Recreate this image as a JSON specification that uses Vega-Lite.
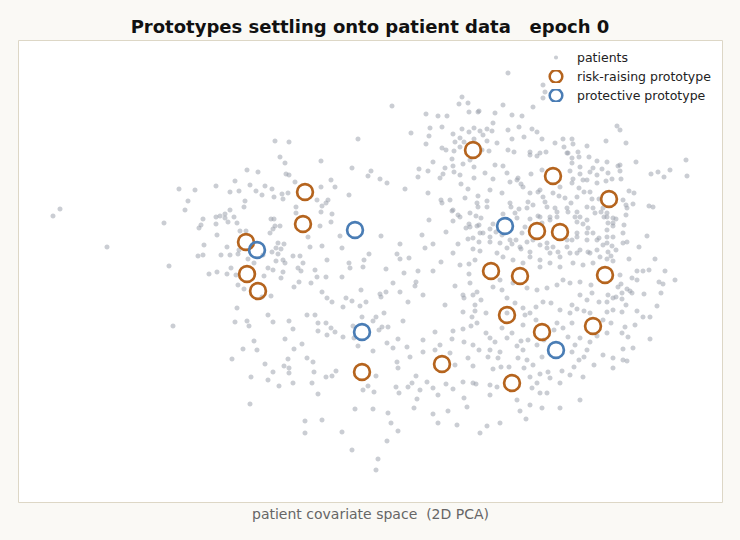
{
"$schema":"https://vega.github.io/schema/vega-lite/v6.json",
"autosize":"none","width":704,"height":462,
"padding":{"left":18,"top":40,"right":18,"bottom":38},
"background":"#faf9f5",
"config":{"font":"DejaVu Sans","view":{"fill":"white","stroke":"#ddd7c6","strokeWidth":1}},
"title":{"text":"Prototypes settling onto patient data\u00a0\u00a0\u00a0epoch 0","fontSize":18,"fontWeight":"bold","color":"#111111","anchor":"middle","offset":3},
"data":{"values":[
{"x":-3.17,"y":0.54,"kind":"patients"},{"x":-3.10,"y":0.61,"kind":"patients"},{"x":-2.63,"y":0.23,"kind":"patients"},{"x":-2.06,"y":0.47,"kind":"patients"},{"x":-2.01,"y":0.04,"kind":"patients"},{"x":-1.91,"y":0.81,"kind":"patients"},{"x":-1.75,"y":0.80,"kind":"patients"},{"x":-1.82,"y":0.69,"kind":"patients"},{"x":-1.85,"y":0.60,"kind":"patients"},{"x":-1.54,"y":0.84,"kind":"patients"},{"x":-1.35,"y":0.89,"kind":"patients"},{"x":-1.23,"y":1.00,"kind":"patients"},{"x":-1.12,"y":0.98,"kind":"patients"},{"x":-1.40,"y":0.78,"kind":"patients"},{"x":-1.31,"y":0.79,"kind":"patients"},{"x":-1.20,"y":0.85,"kind":"patients"},{"x":-1.14,"y":0.79,"kind":"patients"},{"x":-1.25,"y":0.69,"kind":"patients"},{"x":-1.26,"y":0.63,"kind":"patients"},{"x":-1.40,"y":0.60,"kind":"patients"},{"x":-1.67,"y":0.51,"kind":"patients"},{"x":-1.54,"y":0.53,"kind":"patients"},{"x":-1.50,"y":0.54,"kind":"patients"},{"x":-1.45,"y":0.56,"kind":"patients"},{"x":-1.45,"y":0.52,"kind":"patients"},{"x":-1.36,"y":0.53,"kind":"patients"},{"x":-1.42,"y":0.48,"kind":"patients"},{"x":-1.33,"y":0.47,"kind":"patients"},{"x":-1.69,"y":0.45,"kind":"patients"},{"x":-1.71,"y":0.42,"kind":"patients"},{"x":-1.54,"y":0.46,"kind":"patients"},{"x":-1.53,"y":0.35,"kind":"patients"},{"x":-1.66,"y":0.25,"kind":"patients"},{"x":-1.72,"y":0.14,"kind":"patients"},{"x":-1.67,"y":0.15,"kind":"patients"},{"x":-1.49,"y":0.15,"kind":"patients"},{"x":-1.43,"y":0.23,"kind":"patients"},{"x":-1.40,"y":0.15,"kind":"patients"},{"x":-1.32,"y":0.16,"kind":"patients"},{"x":-1.31,"y":0.20,"kind":"patients"},{"x":-1.24,"y":0.39,"kind":"patients"},{"x":-1.30,"y":0.39,"kind":"patients"},{"x":-1.61,"y":-0.04,"kind":"patients"},{"x":-1.53,"y":-0.02,"kind":"patients"},{"x":-1.43,"y":-0.04,"kind":"patients"},{"x":-1.39,"y":0.02,"kind":"patients"},{"x":-1.34,"y":-0.05,"kind":"patients"},{"x":-1.32,"y":-0.15,"kind":"patients"},{"x":-1.26,"y":-0.19,"kind":"patients"},{"x":-1.22,"y":0.11,"kind":"patients"},{"x":-1.16,"y":0.07,"kind":"patients"},
{"x":0.22,"y":1.64,"kind":"patients"},{"x":-0.12,"y":1.31,"kind":"patients"},{"x":-0.95,"y":1.29,"kind":"patients"},{"x":-0.81,"y":1.28,"kind":"patients"},{"x":-0.90,"y":1.13,"kind":"patients"},{"x":-0.85,"y":1.07,"kind":"patients"},{"x":-0.49,"y":1.09,"kind":"patients"},{"x":-0.84,"y":0.96,"kind":"patients"},{"x":-0.81,"y":0.95,"kind":"patients"},{"x":-0.18,"y":1.02,"kind":"patients"},{"x":0.01,"y":0.99,"kind":"patients"},{"x":-0.02,"y":0.94,"kind":"patients"},{"x":0.10,"y":0.91,"kind":"patients"},{"x":0.17,"y":0.87,"kind":"patients"},{"x":-0.39,"y":0.90,"kind":"patients"},{"x":-0.35,"y":0.83,"kind":"patients"},{"x":-0.75,"y":0.88,"kind":"patients"},{"x":-0.49,"y":0.83,"kind":"patients"},{"x":-1.05,"y":0.84,"kind":"patients"},{"x":-0.98,"y":0.81,"kind":"patients"},{"x":-1.08,"y":0.75,"kind":"patients"},{"x":-0.96,"y":0.73,"kind":"patients"},{"x":-0.88,"y":0.76,"kind":"patients"},{"x":-0.82,"y":0.77,"kind":"patients"},{"x":-0.87,"y":0.71,"kind":"patients"},{"x":-0.53,"y":0.70,"kind":"patients"},{"x":-0.42,"y":0.70,"kind":"patients"},{"x":-0.44,"y":0.67,"kind":"patients"},{"x":-0.48,"y":0.64,"kind":"patients"},{"x":-0.38,"y":0.56,"kind":"patients"},{"x":-0.49,"y":0.58,"kind":"patients"},{"x":-0.74,"y":0.63,"kind":"patients"},{"x":-0.74,"y":0.57,"kind":"patients"},{"x":-0.99,"y":0.51,"kind":"patients"},{"x":-0.96,"y":0.51,"kind":"patients"},{"x":-0.95,"y":0.44,"kind":"patients"},{"x":-0.97,"y":0.41,"kind":"patients"},{"x":-0.90,"y":0.44,"kind":"patients"},{"x":-1.00,"y":0.37,"kind":"patients"},{"x":-0.50,"y":0.44,"kind":"patients"},{"x":-0.39,"y":0.48,"kind":"patients"},{"x":-0.21,"y":0.75,"kind":"patients"},{"x":0.35,"y":0.81,"kind":"patients"},{"x":-0.30,"y":0.34,"kind":"patients"},{"x":-0.28,"y":0.22,"kind":"patients"},{"x":-0.60,"y":0.23,"kind":"patients"},{"x":-0.48,"y":0.24,"kind":"patients"},{"x":-0.70,"y":0.14,"kind":"patients"},{"x":-0.62,"y":0.33,"kind":"patients"},{"x":-0.92,"y":0.27,"kind":"patients"},{"x":-0.94,"y":0.22,"kind":"patients"},{"x":-0.86,"y":0.26,"kind":"patients"},{"x":-0.98,"y":0.18,"kind":"patients"},{"x":-0.92,"y":0.16,"kind":"patients"},{"x":-0.89,"y":0.21,"kind":"patients"},{"x":-0.94,"y":0.09,"kind":"patients"},{"x":-0.85,"y":0.07,"kind":"patients"},{"x":-1.02,"y":0.02,"kind":"patients"},{"x":-0.97,"y":0.00,"kind":"patients"},{"x":-0.87,"y":-0.02,"kind":"patients"},{"x":-0.89,"y":-0.08,"kind":"patients"},{"x":-0.72,"y":0.02,"kind":"patients"},{"x":-0.67,"y":0.07,"kind":"patients"},{"x":-0.55,"y":0.00,"kind":"patients"},{"x":-0.44,"y":-0.07,"kind":"patients"},{"x":-0.53,"y":-0.07,"kind":"patients"},{"x":-0.43,"y":0.10,"kind":"patients"},{"x":-0.21,"y":0.07,"kind":"patients"},{"x":-0.20,"y":0.02,"kind":"patients"},{"x":-0.06,"y":0.10,"kind":"patients"},{"x":-0.07,"y":0.03,"kind":"patients"},{"x":-0.01,"y":0.16,"kind":"patients"},{"x":0.11,"y":0.34,"kind":"patients"},{"x":0.16,"y":0.01,"kind":"patients"},{"x":0.27,"y":0.16,"kind":"patients"},{"x":0.30,"y":0.26,"kind":"patients"},{"x":0.39,"y":0.12,"kind":"patients"},{"x":0.34,"y":-0.03,"kind":"patients"},{"x":0.48,"y":-0.01,"kind":"patients"},{"x":0.55,"y":0.22,"kind":"patients"},{"x":0.52,"y":0.35,"kind":"patients"},{"x":0.63,"y":0.26,"kind":"patients"},{"x":0.63,"y":-0.01,"kind":"patients"},{"x":0.71,"y":0.08,"kind":"patients"},{"x":0.90,"y":0.05,"kind":"patients"},{"x":0.99,"y":0.06,"kind":"patients"},{"x":1.05,"y":0.10,"kind":"patients"},{"x":0.99,"y":-0.04,"kind":"patients"},{"x":0.83,"y":0.17,"kind":"patients"},{"x":0.88,"y":0.26,"kind":"patients"},{"x":0.76,"y":0.38,"kind":"patients"},{"x":0.83,"y":0.49,"kind":"patients"},{"x":0.88,"y":0.55,"kind":"patients"},{"x":0.99,"y":0.46,"kind":"patients"},{"x":1.03,"y":0.32,"kind":"patients"},{"x":1.00,"y":0.57,"kind":"patients"},{"x":1.06,"y":0.54,"kind":"patients"},{"x":1.07,"y":0.44,"kind":"patients"},{"x":0.82,"y":0.59,"kind":"patients"},{"x":0.71,"y":0.70,"kind":"patients"},{"x":0.59,"y":0.50,"kind":"patients"},{"x":0.58,"y":0.77,"kind":"patients"},{"x":0.48,"y":0.93,"kind":"patients"},{"x":0.49,"y":1.01,"kind":"patients"},{"x":0.58,"y":0.99,"kind":"patients"},{"x":0.63,"y":1.08,"kind":"patients"},{"x":0.56,"y":1.26,"kind":"patients"},{"x":0.59,"y":1.34,"kind":"patients"},{"x":0.41,"y":1.37,"kind":"patients"},{"x":0.56,"y":1.56,"kind":"patients"},{"x":0.68,"y":1.54,"kind":"patients"},{"x":0.77,"y":1.54,"kind":"patients"},{"x":0.72,"y":1.43,"kind":"patients"},{"x":0.60,"y":1.42,"kind":"patients"},{"x":0.83,"y":1.36,"kind":"patients"},{"x":0.90,"y":1.32,"kind":"patients"},{"x":0.92,"y":1.73,"kind":"patients"},{"x":0.98,"y":1.67,"kind":"patients"},{"x":0.99,"y":1.58,"kind":"patients"},{"x":0.89,"y":1.66,"kind":"patients"},{"x":1.08,"y":1.58,"kind":"patients"},{"x":0.92,"y":1.41,"kind":"patients"},{"x":0.99,"y":1.38,"kind":"patients"},{"x":0.85,"y":1.28,"kind":"patients"},{"x":0.84,"y":1.19,"kind":"patients"},{"x":0.90,"y":1.23,"kind":"patients"},{"x":0.72,"y":1.22,"kind":"patients"},{"x":0.76,"y":1.20,"kind":"patients"},{"x":0.82,"y":1.11,"kind":"patients"},{"x":0.83,"y":1.04,"kind":"patients"},{"x":0.84,"y":0.98,"kind":"patients"},{"x":0.90,"y":0.95,"kind":"patients"},{"x":0.93,"y":1.06,"kind":"patients"},{"x":1.00,"y":1.10,"kind":"patients"},{"x":0.73,"y":0.96,"kind":"patients"},{"x":0.70,"y":0.92,"kind":"patients"},{"x":0.75,"y":1.02,"kind":"patients"},{"x":1.04,"y":1.03,"kind":"patients"},{"x":0.98,"y":0.81,"kind":"patients"},{"x":1.08,"y":0.74,"kind":"patients"},{"x":0.91,"y":0.86,"kind":"patients"},
{"x":1.38,"y":1.97,"kind":"patients"},{"x":1.09,"y":1.59,"kind":"patients"},{"x":1.25,"y":1.57,"kind":"patients"},{"x":1.33,"y":1.65,"kind":"patients"},{"x":1.42,"y":1.55,"kind":"patients"},{"x":1.52,"y":1.54,"kind":"patients"},{"x":1.04,"y":1.42,"kind":"patients"},{"x":1.10,"y":1.39,"kind":"patients"},{"x":1.17,"y":1.41,"kind":"patients"},{"x":1.22,"y":1.39,"kind":"patients"},{"x":1.23,"y":1.47,"kind":"patients"},{"x":1.38,"y":1.40,"kind":"patients"},{"x":1.49,"y":1.43,"kind":"patients"},{"x":1.62,"y":1.41,"kind":"patients"},{"x":1.67,"y":1.38,"kind":"patients"},{"x":0.94,"y":1.28,"kind":"patients"},{"x":1.04,"y":1.31,"kind":"patients"},{"x":1.13,"y":1.35,"kind":"patients"},{"x":1.17,"y":1.29,"kind":"patients"},{"x":1.27,"y":1.27,"kind":"patients"},{"x":1.42,"y":1.31,"kind":"patients"},{"x":1.54,"y":1.33,"kind":"patients"},{"x":1.72,"y":1.31,"kind":"patients"},{"x":1.85,"y":1.27,"kind":"patients"},{"x":1.93,"y":1.31,"kind":"patients"},{"x":2.02,"y":1.31,"kind":"patients"},{"x":2.03,"y":1.26,"kind":"patients"},{"x":2.17,"y":1.24,"kind":"patients"},{"x":2.36,"y":1.29,"kind":"patients"},{"x":2.47,"y":1.44,"kind":"patients"},{"x":2.50,"y":1.40,"kind":"patients"},{"x":2.56,"y":1.27,"kind":"patients"},{"x":1.12,"y":1.20,"kind":"patients"},{"x":1.19,"y":1.19,"kind":"patients"},{"x":1.38,"y":1.20,"kind":"patients"},{"x":1.44,"y":1.18,"kind":"patients"},{"x":1.60,"y":1.18,"kind":"patients"},{"x":1.67,"y":1.14,"kind":"patients"},{"x":1.76,"y":1.18,"kind":"patients"},{"x":1.94,"y":1.23,"kind":"patients"},{"x":1.97,"y":1.17,"kind":"patients"},{"x":2.02,"y":1.12,"kind":"patients"},{"x":2.09,"y":1.13,"kind":"patients"},{"x":2.19,"y":1.13,"kind":"patients"},{"x":2.27,"y":1.09,"kind":"patients"},{"x":2.37,"y":1.08,"kind":"patients"},{"x":2.48,"y":1.04,"kind":"patients"},{"x":2.50,"y":0.99,"kind":"patients"},{"x":2.66,"y":1.08,"kind":"patients"},{"x":2.81,"y":0.96,"kind":"patients"},{"x":2.88,"y":0.98,"kind":"patients"},{"x":2.94,"y":0.93,"kind":"patients"},{"x":3.00,"y":1.00,"kind":"patients"},{"x":3.16,"y":1.10,"kind":"patients"},{"x":3.17,"y":0.94,"kind":"patients"},{"x":1.04,"y":0.92,"kind":"patients"},{"x":1.23,"y":0.91,"kind":"patients"},{"x":1.33,"y":1.04,"kind":"patients"},{"x":1.37,"y":0.97,"kind":"patients"},{"x":1.40,"y":0.88,"kind":"patients"},{"x":1.48,"y":0.92,"kind":"patients"},{"x":1.51,"y":0.86,"kind":"patients"},{"x":1.61,"y":0.96,"kind":"patients"},{"x":1.72,"y":1.00,"kind":"patients"},{"x":2.00,"y":0.99,"kind":"patients"},{"x":2.03,"y":0.91,"kind":"patients"},{"x":2.10,"y":0.96,"kind":"patients"},{"x":2.17,"y":0.90,"kind":"patients"},{"x":2.23,"y":1.02,"kind":"patients"},{"x":2.27,"y":0.95,"kind":"patients"},{"x":2.32,"y":1.01,"kind":"patients"},{"x":2.38,"y":0.97,"kind":"patients"},{"x":2.42,"y":0.91,"kind":"patients"},{"x":2.51,"y":0.91,"kind":"patients"},{"x":2.59,"y":0.79,"kind":"patients"},{"x":2.64,"y":0.77,"kind":"patients"},{"x":2.79,"y":0.64,"kind":"patients"},{"x":2.83,"y":0.63,"kind":"patients"},{"x":2.77,"y":0.34,"kind":"patients"},{"x":2.56,"y":0.55,"kind":"patients"},{"x":2.57,"y":0.62,"kind":"patients"},{"x":2.43,"y":0.52,"kind":"patients"},{"x":2.53,"y":0.37,"kind":"patients"},{"x":2.43,"y":0.33,"kind":"patients"},{"x":2.53,"y":0.27,"kind":"patients"},{"x":2.46,"y":0.20,"kind":"patients"},{"x":0.72,"y":0.67,"kind":"patients"},{"x":1.08,"y":0.63,"kind":"patients"},{"x":1.17,"y":0.69,"kind":"patients"},{"x":1.11,"y":0.52,"kind":"patients"},{"x":1.09,"y":0.45,"kind":"patients"},{"x":0.96,"y":0.42,"kind":"patients"},{"x":0.98,"y":0.31,"kind":"patients"},{"x":1.09,"y":0.28,"kind":"patients"},{"x":1.03,"y":0.21,"kind":"patients"},{"x":1.10,"y":0.19,"kind":"patients"},{"x":1.23,"y":0.46,"kind":"patients"},{"x":1.20,"y":0.41,"kind":"patients"},{"x":1.26,"y":0.38,"kind":"patients"},{"x":1.41,"y":0.63,"kind":"patients"},{"x":1.33,"y":0.56,"kind":"patients"},{"x":1.45,"y":0.57,"kind":"patients"},{"x":1.47,"y":0.52,"kind":"patients"},{"x":1.49,"y":0.61,"kind":"patients"},{"x":1.57,"y":0.62,"kind":"patients"},{"x":1.58,"y":0.68,"kind":"patients"},{"x":1.60,"y":0.77,"kind":"patients"},{"x":1.68,"y":0.78,"kind":"patients"},{"x":1.73,"y":0.73,"kind":"patients"},{"x":1.75,"y":0.68,"kind":"patients"},{"x":1.83,"y":0.77,"kind":"patients"},{"x":1.89,"y":0.74,"kind":"patients"},{"x":1.95,"y":0.72,"kind":"patients"},{"x":2.01,"y":0.67,"kind":"patients"},{"x":1.98,"y":0.58,"kind":"patients"},{"x":2.07,"y":0.73,"kind":"patients"},{"x":2.09,"y":0.82,"kind":"patients"},{"x":2.14,"y":0.78,"kind":"patients"},{"x":2.20,"y":0.78,"kind":"patients"},{"x":2.22,"y":0.71,"kind":"patients"},{"x":2.29,"y":0.71,"kind":"patients"},{"x":2.23,"y":0.62,"kind":"patients"},{"x":2.31,"y":0.58,"kind":"patients"},{"x":2.34,"y":0.53,"kind":"patients"},{"x":2.10,"y":0.53,"kind":"patients"},{"x":2.13,"y":0.46,"kind":"patients"},{"x":2.18,"y":0.42,"kind":"patients"},{"x":2.05,"y":0.53,"kind":"patients"},{"x":1.85,"y":0.62,"kind":"patients"},{"x":1.87,"y":0.53,"kind":"patients"},{"x":1.80,"y":0.53,"kind":"patients"},{"x":1.68,"y":0.54,"kind":"patients"},{"x":1.72,"y":0.47,"kind":"patients"},{"x":1.60,"y":0.51,"kind":"patients"},{"x":1.55,"y":0.43,"kind":"patients"},{"x":1.52,"y":0.37,"kind":"patients"},{"x":1.57,"y":0.28,"kind":"patients"},{"x":1.51,"y":0.21,"kind":"patients"},{"x":1.60,"y":0.18,"kind":"patients"},{"x":1.70,"y":0.25,"kind":"patients"},{"x":1.77,"y":0.22,"kind":"patients"},{"x":1.83,"y":0.23,"kind":"patients"},{"x":1.88,"y":0.18,"kind":"patients"},{"x":1.97,"y":0.23,"kind":"patients"},{"x":2.02,"y":0.30,"kind":"patients"},{"x":2.07,"y":0.37,"kind":"patients"},{"x":2.17,"y":0.30,"kind":"patients"},{"x":2.23,"y":0.37,"kind":"patients"},{"x":2.29,"y":0.32,"kind":"patients"},{"x":2.33,"y":0.25,"kind":"patients"},{"x":2.38,"y":0.18,"kind":"patients"},{"x":2.27,"y":0.20,"kind":"patients"},{"x":2.18,"y":0.18,"kind":"patients"},{"x":2.07,"y":0.17,"kind":"patients"},{"x":1.27,"y":0.17,"kind":"patients"},{"x":1.37,"y":0.22,"kind":"patients"},{"x":1.42,"y":0.26,"kind":"patients"},{"x":1.46,"y":0.30,"kind":"patients"},{"x":1.20,"y":0.28,"kind":"patients"},{"x":1.13,"y":0.37,"kind":"patients"},{"x":1.32,"y":0.35,"kind":"patients"},{"x":1.73,"y":1.85,"kind":"patients"},{"x":1.75,"y":1.78,"kind":"patients"},{"x":1.73,"y":1.72,"kind":"patients"},{"x":1.63,"y":1.63,"kind":"patients"},
{"x":1.60,"y":1.15,"kind":"patients"},{"x":1.70,"y":1.17,"kind":"patients"},{"x":1.98,"y":1.17,"kind":"patients"},{"x":2.08,"y":1.18,"kind":"patients"},{"x":2.02,"y":1.07,"kind":"patients"},{"x":2.10,"y":1.03,"kind":"patients"},{"x":2.20,"y":0.98,"kind":"patients"},{"x":2.27,"y":0.87,"kind":"patients"},{"x":2.13,"y":0.90,"kind":"patients"},{"x":2.02,"y":0.87,"kind":"patients"},{"x":1.90,"y":0.83,"kind":"patients"},{"x":1.70,"y":0.80,"kind":"patients"},{"x":1.53,"y":0.83,"kind":"patients"},{"x":1.47,"y":0.90,"kind":"patients"},{"x":1.25,"y":1.05,"kind":"patients"},{"x":1.15,"y":0.97,"kind":"patients"},{"x":1.20,"y":0.80,"kind":"patients"},{"x":1.32,"y":0.77,"kind":"patients"},{"x":1.40,"y":0.67,"kind":"patients"},{"x":1.63,"y":0.65,"kind":"patients"},{"x":1.77,"y":0.63,"kind":"patients"},{"x":1.87,"y":0.58,"kind":"patients"},{"x":1.97,"y":0.62,"kind":"patients"},{"x":2.07,"y":0.58,"kind":"patients"},{"x":2.17,"y":0.63,"kind":"patients"},{"x":2.25,"y":0.57,"kind":"patients"},{"x":2.37,"y":0.53,"kind":"patients"},{"x":2.43,"y":0.47,"kind":"patients"},{"x":2.17,"y":0.50,"kind":"patients"},{"x":2.07,"y":0.48,"kind":"patients"},{"x":1.80,"y":0.50,"kind":"patients"},{"x":1.70,"y":0.53,"kind":"patients"},{"x":1.63,"y":0.30,"kind":"patients"},{"x":1.77,"y":0.27,"kind":"patients"},{"x":1.97,"y":0.30,"kind":"patients"},{"x":2.07,"y":0.33,"kind":"patients"},{"x":2.17,"y":0.37,"kind":"patients"},{"x":2.27,"y":0.30,"kind":"patients"},{"x":2.37,"y":0.33,"kind":"patients"},{"x":1.80,"y":0.17,"kind":"patients"},{"x":1.90,"y":0.13,"kind":"patients"},{"x":2.00,"y":0.17,"kind":"patients"},{"x":2.10,"y":0.20,"kind":"patients"},{"x":2.20,"y":0.17,"kind":"patients"},{"x":2.30,"y":0.13,"kind":"patients"},{"x":1.70,"y":0.10,"kind":"patients"},{"x":1.60,"y":0.13,"kind":"patients"},{"x":1.50,"y":0.23,"kind":"patients"},{"x":1.40,"y":0.30,"kind":"patients"},{"x":1.30,"y":0.27,"kind":"patients"},{"x":1.20,"y":0.33,"kind":"patients"},{"x":1.10,"y":0.37,"kind":"patients"},{"x":1.00,"y":0.43,"kind":"patients"},{"x":0.90,"y":0.53,"kind":"patients"},{"x":0.83,"y":0.60,"kind":"patients"},{"x":0.80,"y":0.70,"kind":"patients"},{"x":0.95,"y":0.72,"kind":"patients"},{"x":1.07,"y":0.67,"kind":"patients"},{"x":1.17,"y":0.63,"kind":"patients"},{"x":1.80,"y":0.07,"kind":"patients"},{"x":1.90,"y":0.03,"kind":"patients"},{"x":2.03,"y":0.07,"kind":"patients"},{"x":2.13,"y":0.05,"kind":"patients"},{"x":2.23,"y":0.07,"kind":"patients"},{"x":1.70,"y":0.03,"kind":"patients"},{"x":1.53,"y":0.07,"kind":"patients"},{"x":1.43,"y":0.10,"kind":"patients"},{"x":1.33,"y":0.13,"kind":"patients"},
{"x":2.36,"y":0.89,"kind":"patients"},{"x":2.50,"y":1.05,"kind":"patients"},{"x":2.53,"y":0.70,"kind":"patients"},{"x":2.56,"y":0.65,"kind":"patients"},{"x":2.63,"y":0.66,"kind":"patients"},{"x":2.33,"y":0.62,"kind":"patients"},{"x":2.37,"y":0.57,"kind":"patients"},{"x":2.46,"y":0.51,"kind":"patients"},{"x":2.38,"y":0.47,"kind":"patients"},{"x":2.43,"y":0.44,"kind":"patients"},{"x":2.54,"y":0.45,"kind":"patients"},{"x":2.37,"y":0.40,"kind":"patients"},{"x":2.57,"y":0.28,"kind":"patients"},{"x":2.37,"y":0.27,"kind":"patients"},{"x":2.42,"y":0.24,"kind":"patients"},{"x":2.69,"y":0.23,"kind":"patients"},{"x":2.41,"y":0.14,"kind":"patients"},{"x":2.37,"y":0.11,"kind":"patients"},{"x":2.59,"y":0.11,"kind":"patients"},{"x":2.85,"y":0.11,"kind":"patients"},{"x":2.43,"y":0.09,"kind":"patients"},{"x":2.67,"y":-0.01,"kind":"patients"},{"x":2.73,"y":-0.01,"kind":"patients"},{"x":2.79,"y":0.00,"kind":"patients"},{"x":2.95,"y":-0.01,"kind":"patients"},{"x":2.50,"y":-0.05,"kind":"patients"},{"x":3.05,"y":-0.10,"kind":"patients"},{"x":2.89,"y":-0.12,"kind":"patients"},{"x":2.93,"y":-0.14,"kind":"patients"},{"x":2.67,"y":-0.10,"kind":"patients"},{"x":2.51,"y":-0.14,"kind":"patients"},{"x":2.48,"y":-0.17,"kind":"patients"},{"x":2.57,"y":-0.19,"kind":"patients"},{"x":2.60,"y":-0.21,"kind":"patients"},{"x":2.62,"y":-0.23,"kind":"patients"},{"x":2.52,"y":-0.23,"kind":"patients"},{"x":2.74,"y":-0.24,"kind":"patients"},{"x":2.91,"y":-0.23,"kind":"patients"},{"x":2.38,"y":-0.25,"kind":"patients"},{"x":2.46,"y":-0.27,"kind":"patients"},
{"x":0.85,"y":-0.16,"kind":"patients"},{"x":0.75,"y":-0.35,"kind":"patients"},{"x":0.94,"y":-0.28,"kind":"patients"},{"x":1.03,"y":-0.25,"kind":"patients"},{"x":1.11,"y":-0.30,"kind":"patients"},{"x":1.05,"y":-0.41,"kind":"patients"},{"x":0.93,"y":-0.42,"kind":"patients"},{"x":1.16,"y":-0.43,"kind":"patients"},{"x":0.83,"y":-0.61,"kind":"patients"},{"x":0.82,"y":-0.69,"kind":"patients"},{"x":0.93,"y":-0.59,"kind":"patients"},{"x":1.01,"y":-0.56,"kind":"patients"},{"x":1.07,"y":-0.53,"kind":"patients"},{"x":0.94,"y":-0.72,"kind":"patients"},{"x":1.03,"y":-0.75,"kind":"patients"},{"x":1.16,"y":-0.63,"kind":"patients"},{"x":1.20,"y":-0.68,"kind":"patients"},{"x":1.25,"y":-0.72,"kind":"patients"},{"x":1.09,"y":-0.80,"kind":"patients"},{"x":1.20,"y":-0.80,"kind":"patients"},{"x":1.30,"y":-0.82,"kind":"patients"},{"x":1.18,"y":-0.87,"kind":"patients"},{"x":1.28,"y":-0.88,"kind":"patients"},{"x":1.42,"y":-0.63,"kind":"patients"},{"x":1.53,"y":-0.55,"kind":"patients"},{"x":1.51,"y":-0.71,"kind":"patients"},{"x":1.47,"y":-0.76,"kind":"patients"},{"x":1.58,"y":-0.70,"kind":"patients"},{"x":1.53,"y":-0.80,"kind":"patients"},{"x":1.48,"y":-0.88,"kind":"patients"},{"x":1.57,"y":-0.90,"kind":"patients"},{"x":1.67,"y":-0.75,"kind":"patients"},{"x":1.72,"y":-0.87,"kind":"patients"},{"x":1.63,"y":-0.95,"kind":"patients"},{"x":1.54,"y":-0.98,"kind":"patients"},{"x":1.39,"y":-0.97,"kind":"patients"},{"x":1.31,"y":-0.97,"kind":"patients"},{"x":1.23,"y":-0.99,"kind":"patients"},{"x":1.06,"y":-1.14,"kind":"patients"},{"x":1.20,"y":-1.15,"kind":"patients"},{"x":1.27,"y":-1.17,"kind":"patients"},{"x":1.20,"y":-1.25,"kind":"patients"},{"x":0.94,"y":-1.28,"kind":"patients"},{"x":0.97,"y":-1.37,"kind":"patients"},{"x":0.83,"y":-1.19,"kind":"patients"},{"x":0.76,"y":-1.14,"kind":"patients"},{"x":1.60,"y":-1.07,"kind":"patients"},{"x":1.70,"y":-1.04,"kind":"patients"},{"x":1.67,"y":-1.13,"kind":"patients"},{"x":1.78,"y":-1.02,"kind":"patients"},{"x":1.80,"y":-1.08,"kind":"patients"},{"x":1.92,"y":-1.01,"kind":"patients"},{"x":1.70,"y":-1.23,"kind":"patients"},{"x":1.62,"y":-1.18,"kind":"patients"},{"x":1.47,"y":-1.30,"kind":"patients"},{"x":1.60,"y":-1.35,"kind":"patients"},{"x":1.77,"y":-1.23,"kind":"patients"},{"x":1.90,"y":-1.13,"kind":"patients"},{"x":2.00,"y":-1.05,"kind":"patients"},{"x":2.04,"y":-0.97,"kind":"patients"},{"x":2.13,"y":-1.07,"kind":"patients"},{"x":2.09,"y":-0.90,"kind":"patients"},{"x":2.14,"y":-0.87,"kind":"patients"},{"x":2.24,"y":-0.95,"kind":"patients"},{"x":2.33,"y":-0.85,"kind":"patients"},{"x":2.43,"y":-0.98,"kind":"patients"},{"x":2.53,"y":-0.90,"kind":"patients"},{"x":2.53,"y":-0.79,"kind":"patients"},{"x":2.43,"y":-0.88,"kind":"patients"},{"x":2.63,"y":-0.78,"kind":"patients"},{"x":2.17,"y":-0.80,"kind":"patients"},{"x":2.02,"y":-0.82,"kind":"patients"},{"x":2.05,"y":-0.75,"kind":"patients"},{"x":1.98,"y":-0.67,"kind":"patients"},{"x":2.10,"y":-0.68,"kind":"patients"},{"x":2.20,"y":-0.72,"kind":"patients"},{"x":2.27,"y":-0.66,"kind":"patients"},{"x":2.37,"y":-0.63,"kind":"patients"},{"x":2.52,"y":-0.63,"kind":"patients"},{"x":2.55,"y":-0.57,"kind":"patients"},{"x":2.65,"y":-0.55,"kind":"patients"},{"x":2.41,"y":-0.53,"kind":"patients"},{"x":2.33,"y":-0.50,"kind":"patients"},{"x":2.37,"y":-0.42,"kind":"patients"},{"x":2.43,"y":-0.40,"kind":"patients"},{"x":2.52,"y":-0.42,"kind":"patients"},{"x":2.56,"y":-0.35,"kind":"patients"},{"x":2.52,"y":-0.29,"kind":"patients"},{"x":2.43,"y":-0.28,"kind":"patients"},{"x":2.37,"y":-0.32,"kind":"patients"},{"x":2.29,"y":-0.32,"kind":"patients"},{"x":2.17,"y":-0.30,"kind":"patients"},{"x":2.10,"y":-0.25,"kind":"patients"},{"x":2.02,"y":-0.35,"kind":"patients"},{"x":2.07,"y":-0.39,"kind":"patients"},{"x":2.14,"y":-0.41,"kind":"patients"},{"x":2.20,"y":-0.43,"kind":"patients"},{"x":2.00,"y":-0.43,"kind":"patients"},{"x":1.90,"y":-0.40,"kind":"patients"},{"x":1.81,"y":-0.33,"kind":"patients"},{"x":1.73,"y":-0.32,"kind":"patients"},{"x":1.87,"y":-0.53,"kind":"patients"},{"x":1.93,"y":-0.58,"kind":"patients"},{"x":1.84,"y":-0.60,"kind":"patients"},{"x":1.74,"y":-0.70,"kind":"patients"},{"x":2.02,"y":-0.53,"kind":"patients"},{"x":1.66,"y":-0.50,"kind":"patients"},{"x":1.60,"y":-0.43,"kind":"patients"},{"x":1.53,"y":-0.38,"kind":"patients"},{"x":1.45,"y":-0.33,"kind":"patients"},{"x":1.37,"y":-0.28,"kind":"patients"},{"x":1.32,"y":-0.20,"kind":"patients"},{"x":1.23,"y":-0.17,"kind":"patients"},{"x":1.30,"y":-0.10,"kind":"patients"},{"x":1.43,"y":-0.13,"kind":"patients"},{"x":1.57,"y":-0.18,"kind":"patients"},{"x":1.67,"y":-0.20,"kind":"patients"},{"x":1.77,"y":-0.18,"kind":"patients"},{"x":1.87,"y":-0.15,"kind":"patients"},{"x":1.93,"y":-0.10,"kind":"patients"},{"x":2.00,"y":-0.13,"kind":"patients"},{"x":2.10,"y":-0.12,"kind":"patients"},{"x":2.21,"y":-0.15,"kind":"patients"},{"x":2.22,"y":-0.23,"kind":"patients"},{"x":2.62,"y":-0.08,"kind":"patients"},{"x":1.37,"y":-0.43,"kind":"patients"},{"x":1.32,"y":-0.58,"kind":"patients"},{"x":1.37,"y":-0.68,"kind":"patients"},{"x":1.55,"y":-0.45,"kind":"patients"},{"x":1.66,"y":-0.37,"kind":"patients"},
{"x":2.87,"y":-0.36,"kind":"patients"},{"x":2.80,"y":-0.47,"kind":"patients"},{"x":2.80,"y":-0.69,"kind":"patients"},{"x":2.67,"y":-0.41,"kind":"patients"},{"x":2.73,"y":-0.47,"kind":"patients"},{"x":2.58,"y":-0.67,"kind":"patients"},{"x":2.57,"y":-0.91,"kind":"patients"},{"x":2.10,"y":-1.30,"kind":"patients"},{"x":1.90,"y":-1.38,"kind":"patients"},{"x":1.72,"y":-1.38,"kind":"patients"},{"x":1.56,"y":-1.49,"kind":"patients"},{"x":1.50,"y":-1.41,"kind":"patients"},{"x":1.30,"y":-1.53,"kind":"patients"},{"x":1.17,"y":-1.56,"kind":"patients"},{"x":1.10,"y":-1.63,"kind":"patients"},{"x":0.87,"y":-1.55,"kind":"patients"},{"x":0.68,"y":-1.53,"kind":"patients"},{"x":0.63,"y":-1.44,"kind":"patients"},{"x":0.78,"y":-1.41,"kind":"patients"},{"x":0.44,"y":-1.38,"kind":"patients"},{"x":0.47,"y":-1.29,"kind":"patients"},{"x":0.68,"y":-1.25,"kind":"patients"},{"x":0.63,"y":-1.18,"kind":"patients"},{"x":0.50,"y":-1.20,"kind":"patients"},{"x":0.38,"y":-1.17,"kind":"patients"},{"x":0.26,"y":-1.17,"kind":"patients"},{"x":0.29,"y":-1.23,"kind":"patients"},{"x":0.18,"y":-1.43,"kind":"patients"},{"x":0.21,"y":-1.53,"kind":"patients"},{"x":0.28,"y":-1.61,"kind":"patients"},{"x":0.17,"y":-1.71,"kind":"patients"},{"x":0.42,"y":-1.13,"kind":"patients"},{"x":0.57,"y":-1.12,"kind":"patients"},{"x":0.46,"y":-1.06,"kind":"patients"},{"x":0.28,"y":-0.98,"kind":"patients"},{"x":0.27,"y":-0.92,"kind":"patients"},{"x":0.40,"y":-0.87,"kind":"patients"},{"x":0.53,"y":-0.82,"kind":"patients"},{"x":0.65,"y":-0.80,"kind":"patients"},{"x":0.80,"y":-0.83,"kind":"patients"},{"x":0.85,"y":-0.95,"kind":"patients"},{"x":0.98,"y":-0.88,"kind":"patients"},{"x":1.03,"y":-0.96,"kind":"patients"},{"x":0.93,"y":-1.12,"kind":"patients"},{"x":1.03,"y":-1.13,"kind":"patients"},{"x":0.23,"y":-0.78,"kind":"patients"},{"x":0.17,"y":-0.73,"kind":"patients"},{"x":0.28,"y":-0.69,"kind":"patients"},{"x":0.37,"y":-0.77,"kind":"patients"},{"x":0.53,"y":-0.70,"kind":"patients"},{"x":0.65,"y":-0.62,"kind":"patients"},{"x":0.70,"y":-0.75,"kind":"patients"},{"x":0.14,"y":-0.43,"kind":"patients"},{"x":0.18,"y":-0.57,"kind":"patients"},{"x":0.33,"y":-0.51,"kind":"patients"},{"x":0.38,"y":-0.32,"kind":"patients"},{"x":0.45,"y":-0.16,"kind":"patients"},{"x":0.53,"y":-0.25,"kind":"patients"},{"x":1.00,"y":-0.13,"kind":"patients"},{"x":0.93,"y":-0.25,"kind":"patients"},{"x":1.02,"y":-0.47,"kind":"patients"},{"x":1.05,"y":-0.35,"kind":"patients"},{"x":1.07,"y":-0.22,"kind":"patients"},{"x":0.30,"y":0.11,"kind":"patients"},{"x":0.23,"y":-0.13,"kind":"patients"},{"x":0.30,"y":-0.22,"kind":"patients"},{"x":0.46,"y":-0.12,"kind":"patients"},{"x":0.16,"y":-0.22,"kind":"patients"},{"x":0.11,"y":-0.27,"kind":"patients"},{"x":0.12,"y":-0.57,"kind":"patients"},
{"x":-1.08,"y":-0.27,"kind":"patients"},{"x":-0.99,"y":-0.26,"kind":"patients"},{"x":-1.97,"y":-0.56,"kind":"patients"},{"x":-1.33,"y":-0.38,"kind":"patients"},{"x":-1.35,"y":-0.52,"kind":"patients"},{"x":-1.23,"y":-0.51,"kind":"patients"},{"x":-1.21,"y":-0.56,"kind":"patients"},{"x":-1.38,"y":-0.89,"kind":"patients"},{"x":-1.27,"y":-0.79,"kind":"patients"},{"x":-1.16,"y":-0.71,"kind":"patients"},{"x":-1.13,"y":-0.80,"kind":"patients"},{"x":-1.19,"y":-1.07,"kind":"patients"},{"x":-1.20,"y":-1.34,"kind":"patients"},{"x":-1.02,"y":-0.45,"kind":"patients"},{"x":-0.97,"y":-0.52,"kind":"patients"},{"x":-1.05,"y":-0.94,"kind":"patients"},{"x":-1.02,"y":-1.10,"kind":"patients"},{"x":-0.97,"y":-1.02,"kind":"patients"},{"x":-0.91,"y":-1.16,"kind":"patients"},{"x":-0.86,"y":-0.96,"kind":"patients"},{"x":-0.81,"y":-0.98,"kind":"patients"},{"x":-0.81,"y":-1.03,"kind":"patients"},{"x":-0.77,"y":-1.13,"kind":"patients"},{"x":-0.85,"y":-0.69,"kind":"patients"},{"x":-0.82,"y":-0.89,"kind":"patients"},{"x":-0.76,"y":-0.79,"kind":"patients"},{"x":-0.68,"y":-0.74,"kind":"patients"},{"x":-0.81,"y":-0.51,"kind":"patients"},{"x":-0.77,"y":-0.59,"kind":"patients"},{"x":-0.63,"y":-0.45,"kind":"patients"},{"x":-0.55,"y":-0.45,"kind":"patients"},{"x":-0.52,"y":-0.53,"kind":"patients"},{"x":-0.52,"y":-0.61,"kind":"patients"},{"x":-0.44,"y":-0.53,"kind":"patients"},{"x":-0.39,"y":-0.58,"kind":"patients"},{"x":-0.43,"y":-0.65,"kind":"patients"},{"x":-0.35,"y":-0.62,"kind":"patients"},{"x":-0.27,"y":-0.67,"kind":"patients"},{"x":-0.63,"y":-0.88,"kind":"patients"},{"x":-0.57,"y":-0.92,"kind":"patients"},{"x":-0.56,"y":-1.02,"kind":"patients"},{"x":-0.58,"y":-1.13,"kind":"patients"},{"x":-0.52,"y":-1.24,"kind":"patients"},{"x":-0.44,"y":-1.07,"kind":"patients"},{"x":-0.38,"y":-1.06,"kind":"patients"},{"x":-0.34,"y":-1.01,"kind":"patients"},{"x":-0.65,"y":-1.51,"kind":"patients"},{"x":-0.48,"y":-1.50,"kind":"patients"},{"x":-0.65,"y":-1.63,"kind":"patients"},{"x":-0.28,"y":-1.62,"kind":"patients"},{"x":-0.18,"y":-1.80,"kind":"patients"},{"x":0.08,"y":-1.89,"kind":"patients"},{"x":0.06,"y":-2.00,"kind":"patients"},{"x":0.03,"y":-1.39,"kind":"patients"},{"x":-0.15,"y":-1.39,"kind":"patients"},{"x":-0.07,"y":-1.20,"kind":"patients"},{"x":-0.02,"y":-1.16,"kind":"patients"},{"x":0.04,"y":-1.22,"kind":"patients"},{"x":0.06,"y":-1.06,"kind":"patients"},{"x":0.03,"y":-0.81,"kind":"patients"},{"x":-0.12,"y":-0.76,"kind":"patients"},{"x":-0.16,"y":-0.68,"kind":"patients"},{"x":-0.17,"y":-0.56,"kind":"patients"},{"x":0.09,"y":-0.60,"kind":"patients"},{"x":0.03,"y":-0.51,"kind":"patients"},{"x":0.06,"y":-0.47,"kind":"patients"},{"x":-0.08,"y":-0.47,"kind":"patients"},{"x":-0.27,"y":-0.37,"kind":"patients"},{"x":-0.10,"y":-0.36,"kind":"patients"},{"x":-0.04,"y":-0.32,"kind":"patients"},{"x":-0.09,"y":-0.20,"kind":"patients"},{"x":0.10,"y":-0.24,"kind":"patients"},{"x":-0.18,"y":-0.31,"kind":"patients"},{"x":-0.24,"y":-0.28,"kind":"patients"},{"x":-0.38,"y":-0.32,"kind":"patients"},{"x":-0.43,"y":-0.28,"kind":"patients"},{"x":-0.48,"y":-0.22,"kind":"patients"},{"x":-0.28,"y":-0.07,"kind":"patients"},{"x":-0.59,"y":-0.13,"kind":"patients"},{"x":-0.69,"y":-0.01,"kind":"patients"},{"x":-0.71,"y":-0.12,"kind":"patients"},{"x":-0.76,"y":-0.17,"kind":"patients"},{"x":-0.77,"y":0.14,"kind":"patients"},{"x":-0.87,"y":0.10,"kind":"patients"},{"x":-1.06,"y":-0.06,"kind":"patients"},{"x":-1.07,"y":0.15,"kind":"patients"},
{"x":1.03,"y":1.20,"kind":"risk-raising prototype"},{"x":1.83,"y":0.94,"kind":"risk-raising prototype"},{"x":2.39,"y":0.71,"kind":"risk-raising prototype"},{"x":-0.65,"y":0.78,"kind":"risk-raising prototype"},{"x":-0.67,"y":0.46,"kind":"risk-raising prototype"},{"x":-1.24,"y":0.28,"kind":"risk-raising prototype"},{"x":1.67,"y":0.39,"kind":"risk-raising prototype"},{"x":1.90,"y":0.38,"kind":"risk-raising prototype"},{"x":1.21,"y":-0.01,"kind":"risk-raising prototype"},{"x":1.50,"y":-0.06,"kind":"risk-raising prototype"},{"x":2.35,"y":-0.05,"kind":"risk-raising prototype"},{"x":-1.23,"y":-0.04,"kind":"risk-raising prototype"},{"x":-1.12,"y":-0.21,"kind":"risk-raising prototype"},{"x":1.37,"y":-0.45,"kind":"risk-raising prototype"},{"x":2.23,"y":-0.56,"kind":"risk-raising prototype"},{"x":1.72,"y":-0.62,"kind":"risk-raising prototype"},{"x":-0.08,"y":-1.02,"kind":"risk-raising prototype"},{"x":0.72,"y":-0.94,"kind":"risk-raising prototype"},{"x":1.42,"y":-1.13,"kind":"risk-raising prototype"},
{"x":-1.13,"y":0.20,"kind":"protective prototype"},{"x":-0.15,"y":0.40,"kind":"protective prototype"},{"x":1.35,"y":0.44,"kind":"protective prototype"},{"x":-0.08,"y":-0.62,"kind":"protective prototype"},{"x":1.86,"y":-0.80,"kind":"protective prototype"}
]},
"mark":{"type":"point","size":250,"strokeWidth":2.7,"opacity":1},
"encoding":{
"x":{"field":"x","type":"quantitative","scale":{"domain":[-3.52,3.52],"nice":false,"zero":false},
"axis":{"title":"patient covariate space\u00a0\u00a0(2D PCA)","domain":false,"ticks":false,"labels":false,"grid":false,"titleFontSize":14,"titleFontWeight":"normal","titleColor":"#666666","titlePadding":5,"offset":0}},
"y":{"field":"y","type":"quantitative","scale":{"domain":[-2.32,2.30],"nice":false,"zero":false},"axis":null},
"shape":{"field":"kind","type":"nominal","scale":{"domain":["patients","risk-raising prototype","protective prototype"],"range":["M0.32,0C0.32,0.177,0.177,0.32,0,0.32C-0.177,0.32,-0.32,0.177,-0.32,0C-0.32,-0.177,-0.177,-0.32,0,-0.32C0.177,-0.32,0.32,-0.177,0.32,0Z","circle","circle"]},
"legend":{"title":null,"orient":"top-right","offset":11,"padding":0,"symbolSize":160,"symbolStrokeWidth":2.5,"labelFontSize":12.5,"labelColor":"#222222","labelOffset":13,"rowPadding":6,"clipHeight":13}},
"fill":{"field":"kind","type":"nominal","scale":{"domain":["patients","risk-raising prototype","protective prototype"],"range":["rgba(150,156,168,0.5)","rgba(0,0,0,0)","rgba(0,0,0,0)"]},"legend":{"title":null}},
"stroke":{"field":"kind","type":"nominal","scale":{"domain":["patients","risk-raising prototype","protective prototype"],"range":["rgba(0,0,0,0)","#b5641e","#4a7db5"]},"legend":{"title":null}}
}
}
